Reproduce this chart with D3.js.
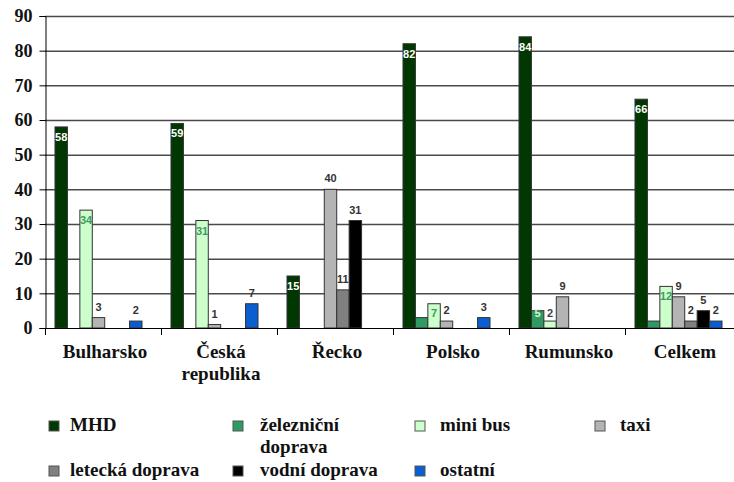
<!DOCTYPE html>
<html>
<head>
<meta charset="utf-8">
<script src="https://cdn.jsdelivr.net/npm/d3@7"></script>
<style>
  body { margin: 0; background: #fff; }
  svg { display: block; }
</style>
</head>
<body>
<script>
var width = 734,
    height = 482;
var serif = "'Liberation Serif'",
    sans = "'Liberation Sans'";

var categories = ["Bulharsko", "Česká republika", "Řecko", "Polsko", "Rumunsko", "Celkem"];
var seriesNames = ["MHD", "železniční doprava", "mini bus", "taxi", "letecká doprava", "vodní doprava", "ostatní"];
var seriesColors = ["#013801", "#2f9a62", "#ccffcc", "#b4b4b4", "#808080", "#000000", "#0a5fd0"];
var yTicks = [0, 10, 20, 30, 40, 50, 60, 70, 80, 90];

// one array per series, in category order
var mhd      = [58, 59, 15, 82, 84, 66];
var zeleznice = [0, 0, 0, 3, 5, 2];
var miniBus  = [34, 31, 0, 7, 2, 12];
var taxi     = [3, 1, 40, 2, 9, 9];
var letecka  = [0, 0, 11, 0, 0, 2];
var vodni    = [0, 0, 31, 0, 0, 5];
var ostatni  = [2, 7, 0, 3, 0, 2];
var seriesValues = [mhd, zeleznice, miniBus, taxi, letecka, vodni, ostatni];

// the two small teal bars have no data label
var labelHidden = {"1-3": true, "1-5": true};

var svg = d3.select("body").append("svg")
    .attr("width", width)
    .attr("height", height);

var x0 = d3.scaleBand().domain(categories).range([45, 45 + 6 * 116]);
var x1 = d3.scaleBand().domain(seriesNames).range([10, 97]);
var y = d3.scaleLinear().domain([0, 90]).range([328, 16]);

// grid
svg.append("g")
    .selectAll("line")
    .data(yTicks.slice(1))
    .enter().append("line")
    .attr("x1", 45).attr("x2", width)
    .attr("y1", function (d) { return y(d) + 0.5; })
    .attr("y2", function (d) { return y(d) + 0.5; })
    .attr("stroke", "#4a4a4a")
    .attr("stroke-width", 1.5);

// y axis
var yAxis = svg.append("g")
    .attr("transform", "translate(45.5,0)")
    .call(d3.axisLeft(y).tickValues(yTicks).tickSize(6).tickPadding(7));
yAxis.select(".domain").attr("stroke", "#000");
yAxis.selectAll(".tick line").attr("stroke", "#000");
yAxis.selectAll("text")
    .style("font-family", serif)
    .style("font-weight", "bold")
    .style("font-size", "18px")
    .attr("fill", "#111");

// bars
var rows = [];
seriesNames.forEach(function (s, si) {
    categories.forEach(function (c, ci) {
        rows.push({s: s, si: si, c: c, ci: ci, v: seriesValues[si][ci]});
    });
});

svg.append("g")
    .selectAll("rect")
    .data(rows.filter(function (d) { return d.v > 0; }))
    .enter().append("rect")
    .attr("x", function (d) { return x0(d.c) + x1(d.s); })
    .attr("width", x1.bandwidth())
    .attr("y", function (d) { return y(d.v); })
    .attr("height", function (d) { return y(0) - y(d.v); })
    .attr("fill", function (d) { return seriesColors[d.si]; })
    .attr("stroke", "#333")
    .attr("stroke-width", 1);

// x axis
svg.append("line")
    .attr("x1", 45).attr("x2", width)
    .attr("y1", 328.5).attr("y2", 328.5)
    .attr("stroke", "#000");
svg.append("g")
    .selectAll("line")
    .data(d3.range(categories.length + 1))
    .enter().append("line")
    .attr("x1", function (i) { return 45.5 + i * x0.bandwidth(); })
    .attr("x2", function (i) { return 45.5 + i * x0.bandwidth(); })
    .attr("y1", 328).attr("y2", 335)
    .attr("stroke", "#000");

var catText = svg.append("g")
    .selectAll("text")
    .data(categories)
    .enter().append("text")
    .attr("x", function (d) { return x0(d) + x0.bandwidth() / 2 + 2; })
    .attr("y", 358)
    .attr("text-anchor", "middle")
    .style("font-family", serif)
    .style("font-weight", "bold")
    .style("font-size", "19px")
    .attr("fill", "#111");
catText.each(function (d) {
    var words = d.split(" ");
    var t = d3.select(this);
    words.forEach(function (w, i) {
        t.append("tspan")
            .attr("x", t.attr("x"))
            .attr("dy", i === 0 ? 0 : 22)
            .text(w);
    });
});

// data labels
var insideSeries = [0, 1, 2];
var insideColors = ["#ffffff", "#d8f5d8", "#3f9a5e"];
svg.append("g")
    .selectAll("text")
    .data(rows.filter(function (d) { return d.v > 0 && !labelHidden[d.si + "-" + d.ci]; }))
    .enter().append("text")
    .attr("x", function (d) { return x0(d.c) + x1(d.s) + x1.bandwidth() / 2; })
    .attr("y", function (d) {
        if (insideSeries.indexOf(d.si) >= 0) return Math.min(y(d.v) + 14, 317);
        return y(d.v) - 7;
    })
    .attr("text-anchor", "middle")
    .style("font-family", sans)
    .style("font-weight", "bold")
    .style("font-size", "11px")
    .attr("fill", function (d) {
        if (insideSeries.indexOf(d.si) >= 0) {
            if (Math.min(y(d.v) + 14, 317) - 4 < y(d.v)) return "#444";
            return insideColors[d.si];
        }
        return "#333";
    })
    .text(function (d) { return d.v; });

// legend
var legendX = [49, 233, 415, 595];
var legendTextX = [70, 260, 440, 620];
var legend = svg.append("g")
    .selectAll("g")
    .data(seriesNames)
    .enter().append("g")
    .attr("transform", function (d, i) {
        var row = Math.floor(i / 4), col = i % 4;
        return "translate(" + legendX[col] + "," + (421 + row * 45) + ")";
    });
legend.append("rect")
    .attr("width", 10).attr("height", 10)
    .attr("fill", function (d, i) { return seriesColors[i]; })
    .attr("stroke", "#555");
legend.append("text")
    .attr("x", function (d, i) { return legendTextX[i % 4] - legendX[i % 4]; })
    .attr("y", 10)
    .style("font-family", serif)
    .style("font-weight", "bold")
    .style("font-size", "19px")
    .attr("fill", "#111")
    .each(function (d) {
        var t = d3.select(this);
        var parts = d === "železniční doprava" ? ["železniční", "doprava"] : [d];
        parts.forEach(function (p, i) {
            t.append("tspan")
                .attr("x", t.attr("x"))
                .attr("dy", i === 0 ? 0 : 22)
                .text(p);
        });
    });
</script>
</body>
</html>
